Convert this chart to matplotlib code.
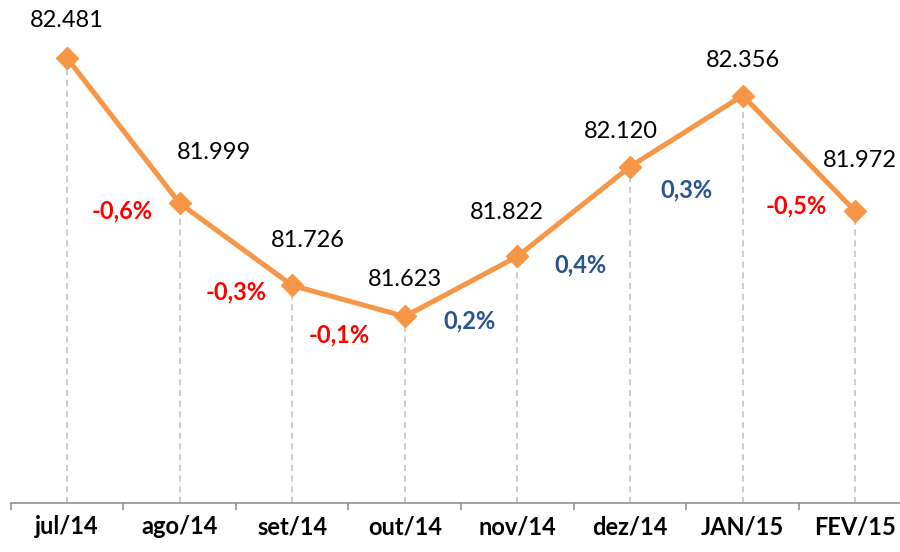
import matplotlib
matplotlib.use("Agg")
import matplotlib.pyplot as plt

# dados (mil)
meses = ["jul/14", "ago/14", "set/14", "out/14", "nov/14", "dez/14", "JAN/15", "FEV/15"]
valores = [82481, 81999, 81726, 81623, 81822, 82120, 82356, 81972]

# posição dos rótulos (pixels, relativos ao ponto / meio do segmento)
off_valor = [(0, 37), (34, 51), (16, 45), (0, 37), (-11, 44), (-9, 35), (0, 35), (5, 51)]
off_var = [(-1, -80), (0, -48), (-9, -34), (8, -34), (7, -53), (0, -59), (-3, -53)]

laranja = "#F79646"
vermelho = "#FF0000"
azul = "#2A5490"

plt.rcParams["font.family"] = ["Lato", "DejaVu Sans"]

fig = plt.figure(figsize=(9, 5.52), dpi=100)
ax = fig.add_axes([10.6 / 900, 49 / 552, 901 / 900, 503 / 552])

x = list(range(len(meses)))
ymin, ymax = 81004, 82673

# linhas tracejadas até o eixo
for xi, v in zip(x, valores):
    ax.plot([xi, xi], [ymin, v], color="#BFBFBF", lw=1.1, dashes=(4, 3), zorder=1)

ax.plot(x, valores, color=laranja, lw=3.6, marker="D", markersize=11,
        markerfacecolor=laranja, markeredgecolor=laranja, zorder=3)

for xi, v, (dx, dy) in zip(x, valores, off_valor):
    ax.annotate(f"{v:,}".replace(",", "."), (xi, v), xytext=(dx, dy),
                textcoords="offset pixels", ha="center", va="center",
                fontsize=17, color="black")

for i in range(len(valores) - 1):
    var = (valores[i + 1] / valores[i] - 1) * 100
    txt = f"{var:.1f}%".replace(".", ",")
    cor = vermelho if var < 0 else azul
    xm = (x[i] + x[i + 1]) / 2
    ym = (valores[i] + valores[i + 1]) / 2
    dx, dy = off_var[i]
    ax.annotate(txt, (xm, ym), xytext=(dx, dy), textcoords="offset pixels",
                ha="center", va="center", fontsize=17, fontweight="bold", color=cor)

ax.set_xlim(-0.5, len(meses) - 0.5)
ax.set_ylim(ymin, ymax)

for s in ["top", "right", "left"]:
    ax.spines[s].set_visible(False)
ax.spines["bottom"].set_color("#878787")
ax.spines["bottom"].set_linewidth(1.1)

ax.set_yticks([])
ax.set_xticks(x)
ax.set_xticklabels(meses, fontsize=17, fontweight="bold")
ax.tick_params(axis="x", which="major", length=0, pad=9)
ax.set_xticks([i - 0.5 for i in range(len(meses) + 1)], minor=True)
ax.tick_params(axis="x", which="minor", length=5, width=1.1, color="#878787")

fig.savefig("out.png", dpi=100)
